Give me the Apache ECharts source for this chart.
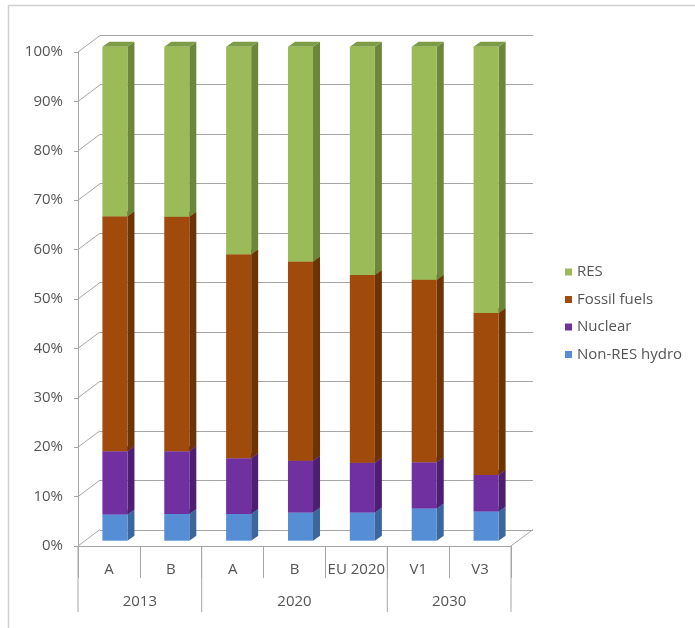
<!DOCTYPE html>
<html><head><meta charset="utf-8">
<script src="https://cdn.jsdelivr.net/npm/echarts@6/dist/echarts.min.js"></script>
<style>html,body{margin:0;padding:0;background:#fff}#c{width:695px;height:628px}</style>
</head><body><div id="c"></div>
<script>
// ---- data ----
const categories = ['A', 'B', 'A', 'B', 'EU 2020', 'V1', 'V3'];
const groupLabels = ['2013', '2020', '2030'];
const groupStart = [0, 2, 5];
const groupEnd = [1, 4, 6];
const yTicks = [0, 10, 20, 30, 40, 50, 60, 70, 80, 90, 100];
const hydro   = [5.3, 5.4, 5.4, 5.7, 5.7, 6.5, 5.9];
const nuclear = [12.8, 12.7, 11.3, 10.5, 10.1, 9.4, 7.4];
const fossil  = [47.6, 47.5, 41.3, 40.3, 38.0, 36.9, 32.8];
const res     = [34.3, 34.4, 42.0, 43.5, 46.2, 47.2, 53.9];
const seriesNames = ['Non-RES hydro', 'Nuclear', 'Fossil fuels', 'RES'];
const legendOrder = ['RES', 'Fossil fuels', 'Nuclear', 'Non-RES hydro'];

// ---- styles ----
const FONT = 'Open Sans';
const FS = 15;
const TXT = '#555555';
const LINE = '#a6a6a6';
const palette = {
  'Non-RES hydro': {front: '#558ed5', side: '#3b679c', top: '#4a7dbd'},
  'Nuclear':       {front: '#7030a0', side: '#4d1f70', top: '#5e2888'},
  'Fossil fuels':  {front: '#a04b0b', side: '#6c3305', top: '#843f09'},
  'RES':           {front: '#9bbb59', side: '#6c863a', top: '#7e9b46'}
};
const DX = 7, DY = 5;        // bar depth
const WX = 22, WY = -16.5;   // front axis -> back wall

const allVals = [hydro, nuclear, fossil, res];
const bases = allVals.map((_, k) => categories.map((c, i) => {
  let s = 0; for (let j = 0; j < k; j++) s += allVals[j][i]; return s;
}));

function barSeries(k) {
  const name = seriesNames[k];
  const col = palette[name];
  return {
    type: 'custom', name: name, xAxisIndex: 2, yAxisIndex: 2, z: 3,
    itemStyle: {color: col.front},
    encode: {x: 0, y: [1, 2]},
    data: allVals[k].map((v, i) => [i, bases[k][i], bases[k][i] + v]),
    renderItem: function (params, api) {
      const i = api.value(0), b = api.value(1), t = api.value(2);
      const p0 = api.coord([i, b]), p1 = api.coord([i, t]);
      const bw = api.size([1, 0])[0] * 0.405;
      const xl = p0[0] - bw / 2, xr = p0[0] + bw / 2;
      const yb = p0[1], yt = p1[1];
      return {
        type: 'group',
        children: [
          {type: 'polygon', shape: {points: [[xr, yt], [xr + DX, yt - DY], [xr + DX, yb - DY], [xr, yb]]},
           style: {fill: col.side}},
          {type: 'polygon', shape: {points: [[xl, yt], [xl + DX, yt - DY], [xr + DX, yt - DY], [xr, yt]]},
           style: {fill: col.top}},
          {type: 'rect', shape: {x: xl, y: yt, width: bw, height: yb - yt}, style: {fill: col.front}}
        ]
      };
    }
  };
}

const option = {
  backgroundColor: '#ffffff',
  animation: false,
  graphic: [
    {type: 'line', shape: {x1: 8, y1: 5.5, x2: 695, y2: 5.5}, style: {stroke: '#d0d0d0', lineWidth: 1.5}},
    {type: 'line', shape: {x1: 8.5, y1: 5, x2: 8.5, y2: 628}, style: {stroke: '#d0d0d0', lineWidth: 1.5}}
  ],
  legend: {
    orient: 'vertical', left: 560, top: 259.5,
    data: legendOrder, icon: 'rect', itemWidth: 7, itemHeight: 7, itemGap: 12.5,
    textStyle: {color: TXT, fontFamily: FONT, fontSize: FS, lineHeight: 15}
  },
  grid: [
    {left: 100, right: 162, top: 35, bottom: 98},   // back wall
    {left: 78, right: 184, top: 52, bottom: 82},    // front axis plane
    {left: 84, right: 178, top: 46.7, bottom: 87.3} // bar front plane
  ],
  xAxis: [
    {gridIndex: 0, type: 'category', data: categories, show: false},
    {gridIndex: 1, type: 'category', data: categories, boundaryGap: true,
     axisLine: {show: true, lineStyle: {color: LINE, width: 1}},
     axisTick: {show: true, interval: 0, length: 32, lineStyle: {color: LINE}},
     axisLabel: {interval: 0, margin: 16, color: TXT, fontFamily: FONT, fontSize: FS}},
    {gridIndex: 2, type: 'category', data: categories, show: false}
  ],
  yAxis: [
    {gridIndex: 0, type: 'value', min: 0, max: 100, interval: 10,
     axisLine: {show: false}, axisTick: {show: false}, axisLabel: {show: false},
     splitLine: {show: true, lineStyle: {color: LINE, width: 1}}},
    {gridIndex: 1, type: 'value', min: 0, max: 100, interval: 10,
     axisLine: {show: true, lineStyle: {color: LINE, width: 1}},
     axisTick: {show: true, length: 4, lineStyle: {color: LINE}},
     splitLine: {show: false},
     axisLabel: {margin: 15, formatter: '{value}%', color: TXT, fontFamily: FONT, fontSize: FS}},
    {gridIndex: 2, type: 'value', min: 0, max: 100, show: false, splitLine: {show: false}}
  ],
  series: [
    // slanted wall connectors
    {
      type: 'custom', xAxisIndex: 1, yAxisIndex: 1, z: 1, silent: true,
      encode: {x: 0, y: 1},
      data: yTicks.map(v => [0, v]),
      renderItem: function (params, api) {
        const v = api.value(1);
        const p = api.coord([0, v]);
        const bw = api.size([1, 0])[0];
        const xl = p[0] - bw / 2;
        const kids = [{type: 'line', shape: {x1: xl, y1: p[1], x2: xl + WX, y2: p[1] + WY},
                       style: {stroke: LINE, lineWidth: 1}}];
        if (v === 0) {
          const q = api.coord([categories.length - 1, 0]);
          const xr = q[0] + bw / 2;
          kids.push({type: 'line', shape: {x1: xr, y1: q[1], x2: xr + WX, y2: q[1] + WY},
                     style: {stroke: LINE, lineWidth: 1}});
        }
        return {type: 'group', children: kids};
      }
    },
    // group labels row
    {
      type: 'custom', xAxisIndex: 1, yAxisIndex: 1, z: 1, silent: true,
      encode: {x: 0, y: 2},
      data: groupLabels.map((g, k) => [groupStart[k], groupEnd[k], 0, k]),
      renderItem: function (params, api) {
        const s = api.value(0), e = api.value(1), k = api.value(3);
        const bw = api.size([1, 0])[0];
        const ps = api.coord([s, 0]), pe = api.coord([e, 0]);
        const x0 = ps[0] - bw / 2, x1 = pe[0] + bw / 2;
        const y0 = ps[1];
        const kids = [
          {type: 'line', shape: {x1: x0, y1: y0, x2: x0, y2: y0 + 66}, style: {stroke: LINE, lineWidth: 1}},
          {type: 'text', style: {text: groupLabels[k], x: (x0 + x1) / 2, y: y0 + 56, align: 'center',
            verticalAlign: 'middle', fill: TXT, font: FS + 'px "' + FONT + '"'}}
        ];
        if (k === groupLabels.length - 1) {
          kids.push({type: 'line', shape: {x1: x1, y1: y0, x2: x1, y2: y0 + 66}, style: {stroke: LINE, lineWidth: 1}});
        }
        return {type: 'group', children: kids};
      }
    },
    barSeries(0), barSeries(1), barSeries(2), barSeries(3)
  ]
};

const chart = echarts.init(document.getElementById('c'), null, {renderer: 'canvas'});
chart.setOption(option);
</script>
</body></html>
